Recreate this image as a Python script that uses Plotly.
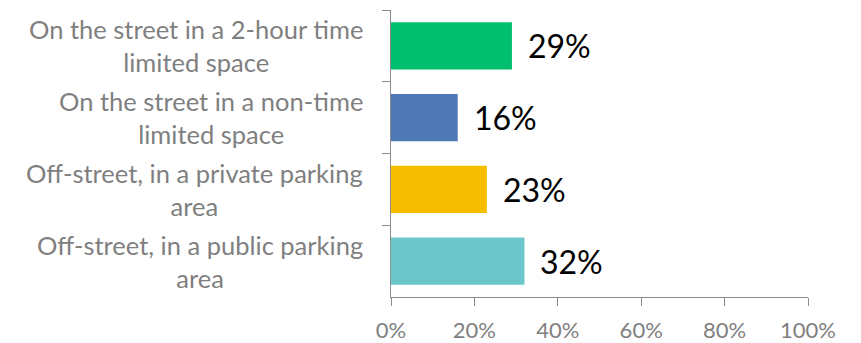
import plotly.graph_objects as go

categories = [
    "On the street in a 2-hour time<br>limited space",
    "On the street in a non-time<br>limited space",
    "Off-street, in a private parking<br>area",
    "Off-street, in a public parking<br>area",
]
values = [29, 16, 23, 32]
bar_colors = ["#00BF6F", "#4E79B4", "#F7BE00", "#6CC7CA"]
x_ticks = [0, 20, 40, 60, 80, 100]
x_tick_labels = [f"{t}%" for t in x_ticks]

axis_grey = "#8C8C8C"
label_grey = "#7F7F7F"
font_family = "Lato"

fig = go.Figure(
    go.Bar(
        x=values,
        y=categories,
        orientation="h",
        width=0.66,
        marker=dict(color=bar_colors, line=dict(width=0)),
        hoverinfo="skip",
    )
)

# value labels just past each bar end
for cat, v in zip(categories, values):
    fig.add_annotation(
        x=v, y=cat, xref="x", yref="y",
        text=f"{v}%", showarrow=False,
        xanchor="left", yanchor="middle", xshift=14,
        font=dict(family=font_family, size=32, color="#000000"),
    )

# category labels, centred line by line, right edge near the axis
for cat in categories:
    fig.add_annotation(
        x=-0.062, y=cat, xref="paper", yref="y",
        text=cat, showarrow=False,
        xanchor="right", yanchor="middle", align="center",
        font=dict(family=font_family, size=25.5, color=label_grey),
    )

fig.update_layout(
    width=861, height=343,
    margin=dict(l=391, r=53, t=10, b=46),
    plot_bgcolor="white", paper_bgcolor="white",
    showlegend=False,
    bargap=0.34,
)
fig.update_xaxes(
    range=[0, 100],
    tickvals=x_ticks, ticktext=x_tick_labels,
    showgrid=False, zeroline=False,
    showline=True, linecolor=axis_grey, linewidth=1,
    ticks="outside", ticklen=8, tickcolor=axis_grey,
    ticklabelstandoff=6,
    automargin=False,
    tickfont=dict(family=font_family, size=22, color=label_grey),
    fixedrange=True,
)
fig.update_yaxes(
    autorange="reversed",
    showticklabels=False,
    showgrid=False, zeroline=False,
    showline=True, linecolor=axis_grey, linewidth=1,
    ticks="outside", ticklen=8, tickcolor=axis_grey,
    tickson="boundaries",
    automargin=False,
    fixedrange=True,
)

fig.write_html("out.html")
